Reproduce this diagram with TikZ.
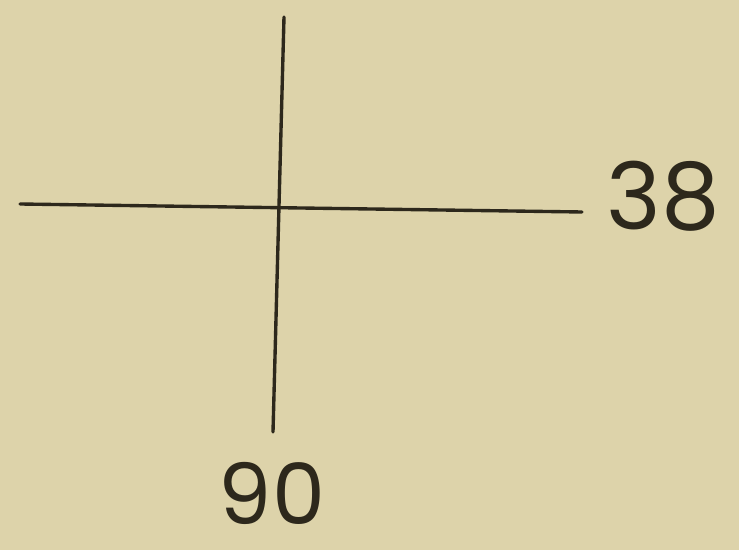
\documentclass[tikz,border=0pt]{standalone}
\usepackage{fontspec}
\newfontfamily\handfont{Poppins}
\usepackage{tikz}
\usetikzlibrary{positioning}
\definecolor{paper}{RGB}{221,211,170}
\definecolor{ink}{RGB}{45,40,28}
\tikzset{
  stroke/.style={ink, line width=2.4pt, line cap=round},
  digits/.style={ink, inner sep=0pt, font=\handfont\fontsize{66}{66}\selectfont}
}

\begin{document}
\begin{tikzpicture}[x=0.025cm, y=-0.025cm]
    \fill[paper] (0,0) rectangle (739,550);
    \useasboundingbox (0,0) rectangle (739,550);

    \coordinate (left) at (20,204);
    \coordinate (right) at (582,212);
    \coordinate (top) at (284,17);
    \coordinate (bottom) at (273,432);

    \draw[stroke] (left) -- (right);
    \draw[stroke] (top) -- (bottom);

    \node[digits] (east) at (663,196) {38};
    \node[digits, font=\handfont\fontsize{60}{60}\selectfont] (south) at (272,493) {90};
  \end{tikzpicture}
\end{document}
